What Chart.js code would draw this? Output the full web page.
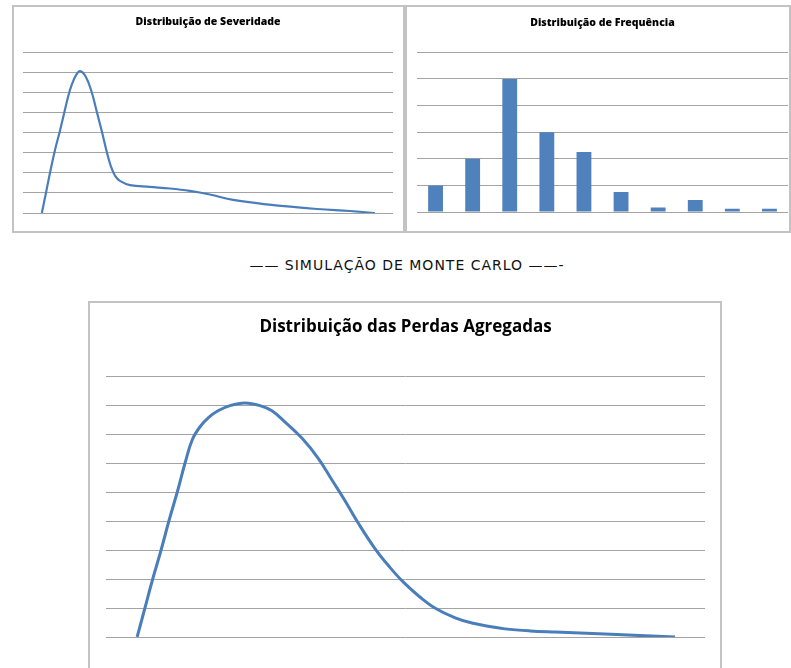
<!DOCTYPE html>
<html><head><meta charset="utf-8">
<script src="https://cdn.jsdelivr.net/npm/chart.js@4.4.1/dist/chart.umd.min.js"></script>
<style>
body{margin:0;background:#fff;width:791px;height:668px;overflow:hidden;position:relative;}
.box{position:absolute;box-sizing:border-box;border:2px solid #c3c3c3;background:#fff;}
canvas{position:absolute;left:0;top:0;}
#cap{position:absolute;left:0;width:814px;top:256px;text-align:center;font:14px "DejaVu Sans";letter-spacing:1px;color:#111;line-height:18px;}
</style></head><body>
<div class="box" style="left:12px;top:5px;width:393px;height:228px"><canvas id="c1" width="389" height="224"></canvas></div>
<div class="box" style="left:405px;top:5px;width:386px;height:228px"><canvas id="c2" width="382" height="224"></canvas></div>
<div id="cap">—— SIMULAÇÃO DE MONTE CARLO ——-</div>
<div class="box" style="left:88px;top:301px;width:634px;height:370px"><canvas id="c3" width="630" height="365"></canvas></div>
<script>
// Severity distribution (x in % of category span, y in gridline units)
const sevX = [5.1, 6.2, 7.3, 8.6, 10.0, 11.1, 12.2, 13.2, 14.3, 15.4, 17.0, 18.6, 20.0, 21.4, 22.7, 23.8, 24.9, 26.2, 28.9, 34.3, 39.7, 45.1, 50.5, 56.8, 65.9, 79.5, 88.4, 95.1];
const sevY = [0, 1.0, 2.0, 3.1, 4.1, 4.95, 5.8, 6.4, 6.85, 7.06, 6.77, 6.0, 5.0, 4.0, 3.0, 2.3, 1.85, 1.6, 1.39, 1.3, 1.22, 1.1, 0.92, 0.65, 0.43, 0.2, 0.1, 0];
// Frequency distribution
const freqLabels = ['0','1','2','3','4','5','6','7','8','9'];
const freqValues = [1.0, 2.0, 5.0, 3.0, 2.25, 0.75, 0.17, 0.45, 0.12, 0.12];
// Aggregate loss distribution
const aggX = [5.2, 6.5, 7.8, 9.2, 10.5, 11.9, 13.2, 14.4, 15.7, 17.2, 18.7, 20.7, 23.2, 25.7, 27.7, 29.9, 32.7, 35.4, 37.7, 39.9, 42.1, 44.9, 47.4, 49.6, 52.4, 54.9, 58.3, 61.1, 64.1, 66.6, 70.8, 75.0, 83.3, 95.0];
const aggY = [0, 1.0, 2.0, 3.0, 4.0, 5.0, 6.0, 6.8, 7.25, 7.58, 7.8, 7.98, 8.07, 7.98, 7.8, 7.41, 6.86, 6.17, 5.42, 4.7, 3.93, 3.05, 2.4, 1.9, 1.38, 1.0, 0.66, 0.48, 0.36, 0.28, 0.21, 0.17, 0.10, 0];
const titles = ['Distribuição de Severidade', 'Distribuição de Frequência', 'Distribuição das Perdas Agregadas'];

const BLUE = '#4a7ebb';
const GRID = '#a3a3a3';
function pts(xs, ys){ return xs.map((x,i)=>({x:x, y:ys[i]})); }
function yAxis(max){
  return {min:0, max:max, display:true,
    ticks:{display:false, stepSize:1},
    border:{display:false},
    grid:{color:GRID, lineWidth:1, drawTicks:false}};
}
function common(title, fontSize, weight, padTop, padBot, layout){
  return {
    responsive:false, animation:false, devicePixelRatio:1,
    layout:{padding:layout},
    plugins:{
      legend:{display:false}, tooltip:{enabled:false},
      title:{display:true, text:title, color:'#000',
        font:{family:'Open Sans', size:fontSize, weight:weight},
        padding:{top:padTop, bottom:padBot}}
    }
  };
}

// Chart 1
const o1 = common(titles[0], 10.5, '800', 8.7, 24.0, {left:9, right:10, top:0, bottom:18});
o1.scales = {x:{type:'linear', min:0, max:100, display:false}, y:yAxis(8)};
new Chart(document.getElementById('c1'), {
  type:'line',
  data:{datasets:[{data:pts(sevX, sevY), borderColor:BLUE, borderWidth:2.2, pointRadius:0, tension:0.4, fill:false}]},
  options:o1
});

// Chart 2
const o2 = common(titles[1], 10.5, '800', 9.7, 23.0, {left:10, right:1, top:0, bottom:19});
o2.scales = {x:{display:false}, y:yAxis(6)};
new Chart(document.getElementById('c2'), {
  type:'bar',
  data:{labels:freqLabels, datasets:[{data:freqValues, backgroundColor:'#4f81bd', categoryPercentage:1, barPercentage:0.4}]},
  options:o2
});

// Chart 3
const o3 = common(titles[2], 17, 'bold', 13.8, 38.8, {left:16, right:15, top:0, bottom:31});
o3.scales = {x:{type:'linear', min:0, max:100, display:false}, y:yAxis(9)};
new Chart(document.getElementById('c3'), {
  type:'line',
  data:{datasets:[{data:pts(aggX, aggY), borderColor:BLUE, borderWidth:3, pointRadius:0, tension:0.4, fill:false}]},
  options:o3
});
</script>
</body></html>
